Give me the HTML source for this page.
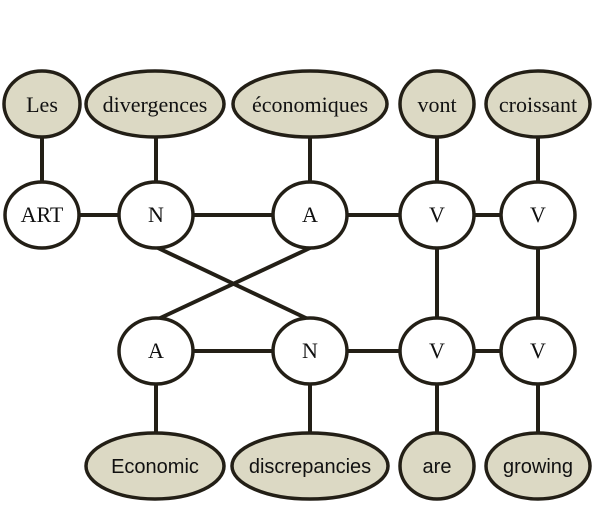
<!DOCTYPE html>
<html><head><style>body{margin:0;background:#fff}</style></head><body>
<svg width="606" height="517" viewBox="0 0 606 517" xmlns="http://www.w3.org/2000/svg">
<g stroke="#231f16" stroke-width="4" fill="none">
<line x1="42" y1="137" x2="42" y2="182"/>
<line x1="156" y1="137" x2="156" y2="182"/>
<line x1="310" y1="137" x2="310" y2="182"/>
<line x1="437" y1="137" x2="437" y2="182"/>
<line x1="538" y1="137" x2="538" y2="182"/>
<line x1="79" y1="215" x2="119" y2="215"/>
<line x1="193" y1="215" x2="273" y2="215"/>
<line x1="347" y1="215" x2="400" y2="215"/>
<line x1="474" y1="215" x2="501" y2="215"/>
<line x1="437" y1="248" x2="437" y2="318"/>
<line x1="538" y1="248" x2="538" y2="318"/>
<line x1="158" y1="248" x2="310" y2="320"/>
<line x1="310" y1="248" x2="156" y2="320"/>
<line x1="193" y1="351" x2="273" y2="351"/>
<line x1="347" y1="351" x2="400" y2="351"/>
<line x1="474" y1="351" x2="501" y2="351"/>
<line x1="156" y1="384" x2="156" y2="433"/>
<line x1="310" y1="384" x2="310" y2="433"/>
<line x1="437" y1="384" x2="437" y2="433"/>
<line x1="538" y1="384" x2="538" y2="433"/>
</g>
<g stroke="#231f16" stroke-width="3.5" fill="#dcd9c4">
<ellipse cx="42" cy="104" rx="38" ry="33"/>
<ellipse cx="155" cy="104" rx="69" ry="33"/>
<ellipse cx="310" cy="104" rx="77" ry="33"/>
<ellipse cx="437" cy="104" rx="37" ry="33"/>
<ellipse cx="538" cy="104" rx="52" ry="33"/>
<ellipse cx="155" cy="466" rx="69" ry="33"/>
<ellipse cx="310" cy="466" rx="78" ry="33"/>
<ellipse cx="437" cy="466" rx="37" ry="33"/>
<ellipse cx="538" cy="466" rx="52" ry="33"/>
</g>
<g stroke="#231f16" stroke-width="3.5" fill="#fff">
<ellipse cx="42" cy="215" rx="37" ry="33"/>
<ellipse cx="156" cy="215" rx="37" ry="33"/>
<ellipse cx="310" cy="215" rx="37" ry="33"/>
<ellipse cx="437" cy="215" rx="37" ry="33"/>
<ellipse cx="538" cy="215" rx="37" ry="33"/>
<ellipse cx="156" cy="351" rx="37" ry="33"/>
<ellipse cx="310" cy="351" rx="37" ry="33"/>
<ellipse cx="437" cy="351" rx="37" ry="33"/>
<ellipse cx="538" cy="351" rx="37" ry="33"/>
</g>
<g font-family="Liberation Serif, serif" font-size="22" fill="#111" text-anchor="middle">
<text x="42" y="112">Les</text>
<text x="155" y="112">divergences</text>
<text x="310" y="112">économiques</text>
<text x="437" y="112">vont</text>
<text x="538" y="112">croissant</text>
<text x="42" y="222">ART</text>
<text x="156" y="222">N</text>
<text x="310" y="222">A</text>
<text x="437" y="222">V</text>
<text x="538" y="222">V</text>
<text x="156" y="358">A</text>
<text x="310" y="358">N</text>
<text x="437" y="358">V</text>
<text x="538" y="358">V</text>
</g>
<g font-family="Liberation Sans, sans-serif" font-size="20" fill="#111" text-anchor="middle">
<text x="155" y="473">Economic</text>
<text x="310" y="473">discrepancies</text>
<text x="437" y="473">are</text>
<text x="538" y="473">growing</text>
</g>
</svg>
</body></html>
